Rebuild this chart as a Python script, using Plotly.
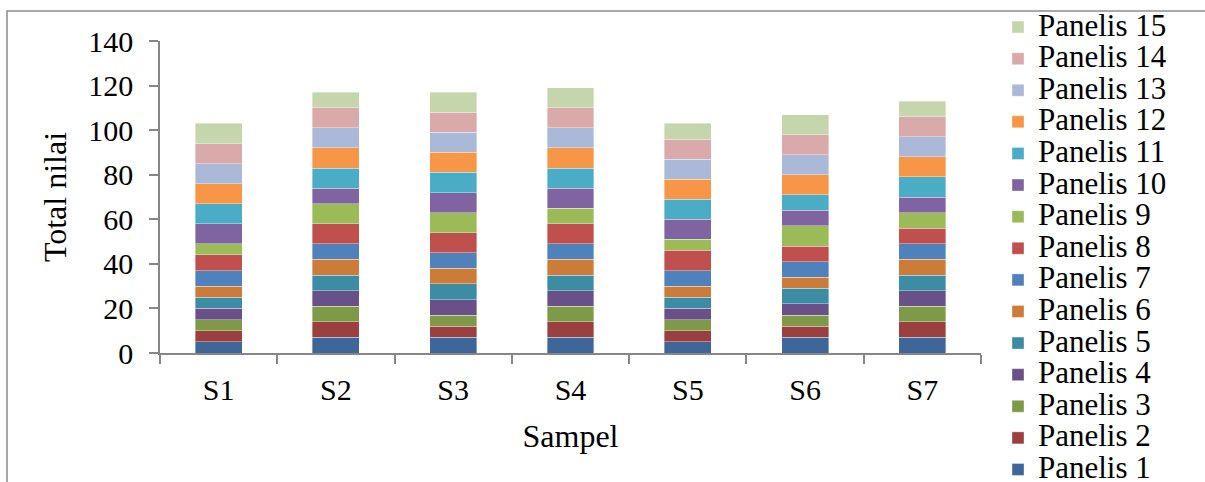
import plotly.graph_objects as go

samples = ["S1", "S2", "S3", "S4", "S5", "S6", "S7"]
series_names = [f"Panelis {i}" for i in range(1, 16)]

# values per panelis (rows) for S1..S7 (columns)
p1 = [5, 7, 7, 7, 5, 7, 7]
p2 = [5, 7, 5, 7, 5, 5, 7]
p3 = [5, 7, 5, 7, 5, 5, 7]
p4 = [5, 7, 7, 7, 5, 5, 7]
p5 = [5, 7, 7, 7, 5, 7, 7]
p6 = [5, 7, 7, 7, 5, 5, 7]
p7 = [7, 7, 7, 7, 7, 7, 7]
p8 = [7, 9, 9, 9, 9, 7, 7]
p9 = [5, 9, 9, 7, 5, 9, 7]
p10 = [9, 7, 9, 9, 9, 7, 7]
p11 = [9, 9, 9, 9, 9, 7, 9]
p12 = [9, 9, 9, 9, 9, 9, 9]
p13 = [9, 9, 9, 9, 9, 9, 9]
p14 = [9, 9, 9, 9, 9, 9, 9]
p15 = [9, 7, 9, 9, 7, 9, 7]
values = [p1, p2, p3, p4, p5, p6, p7, p8, p9, p10, p11, p12, p13, p14, p15]

colors = ["#3E6699", "#9B403E", "#7E9A48", "#6A5088", "#3C8DA3", "#CC7B38",
          "#4F81BD", "#C0504D", "#9BBB59", "#8064A2", "#4BACC6", "#F79646",
          "#AAB9D7", "#D9AAA9", "#C6D6AC"]

FONT = "'Liberation Serif', 'Times New Roman', 'DejaVu Serif', serif"
fig = go.Figure()
for name, vals, col in zip(series_names, values, colors):
    fig.add_trace(go.Bar(
        x=samples, y=vals,
        name=f'<span style="font-size:31px">{name}</span>',
        marker=dict(color=col, line=dict(color="rgba(255,255,255,0.6)", width=0.6)),
    ))

axis_gray = "#868686"
fig.update_layout(
    barmode="stack",
    bargap=0.6,
    width=1205, height=482,
    margin=dict(l=160, r=224, t=41, b=129, autoexpand=False),
    paper_bgcolor="white", plot_bgcolor="white",
    font=dict(family=FONT, size=30, color="black"),
    legend=dict(
        traceorder="reversed",
        font=dict(family=FONT, size=22, color="black"),
        xref="container", yref="container",
        x=998 / 1205, xanchor="left",
        y=0.987, yanchor="top",
        itemwidth=30,
        maxheight=1000,
        bgcolor="rgba(0,0,0,0)",
    ),
    xaxis=dict(
        showline=True, linecolor=axis_gray, linewidth=1.5,
        ticks="outside", ticklen=9, tickcolor=axis_gray, tickwidth=1.5,
        tickson="boundaries", showgrid=False,
        tickfont=dict(family=FONT, size=30),
        ticklabelstandoff=9,
        title=dict(text="Sampel", font=dict(family=FONT, size=32), standoff=20),
        automargin=False,
    ),
    yaxis=dict(
        range=[0, 140], dtick=20,
        showline=True, linecolor=axis_gray, linewidth=1.5,
        ticks="outside", ticklen=9, tickcolor=axis_gray, tickwidth=1.5,
        showgrid=False, zeroline=False,
        tickfont=dict(family=FONT, size=30),
        ticklabelstandoff=10,
        title=dict(text="Total nilai", font=dict(family=FONT, size=32), standoff=12),
        automargin=False,
    ),
)

# outer chart border (only top and left edges visible)
fig.add_shape(type="rect", xref="paper", yref="paper",
              x0=(7 - 160) / 821, x1=(1215 - 160) / 821,
              y0=-0.5, y1=(353.3 - 11) / 312.3,
              line=dict(color="#8C8C8C", width=1.5), layer="below")

fig.write_html("out.html")
